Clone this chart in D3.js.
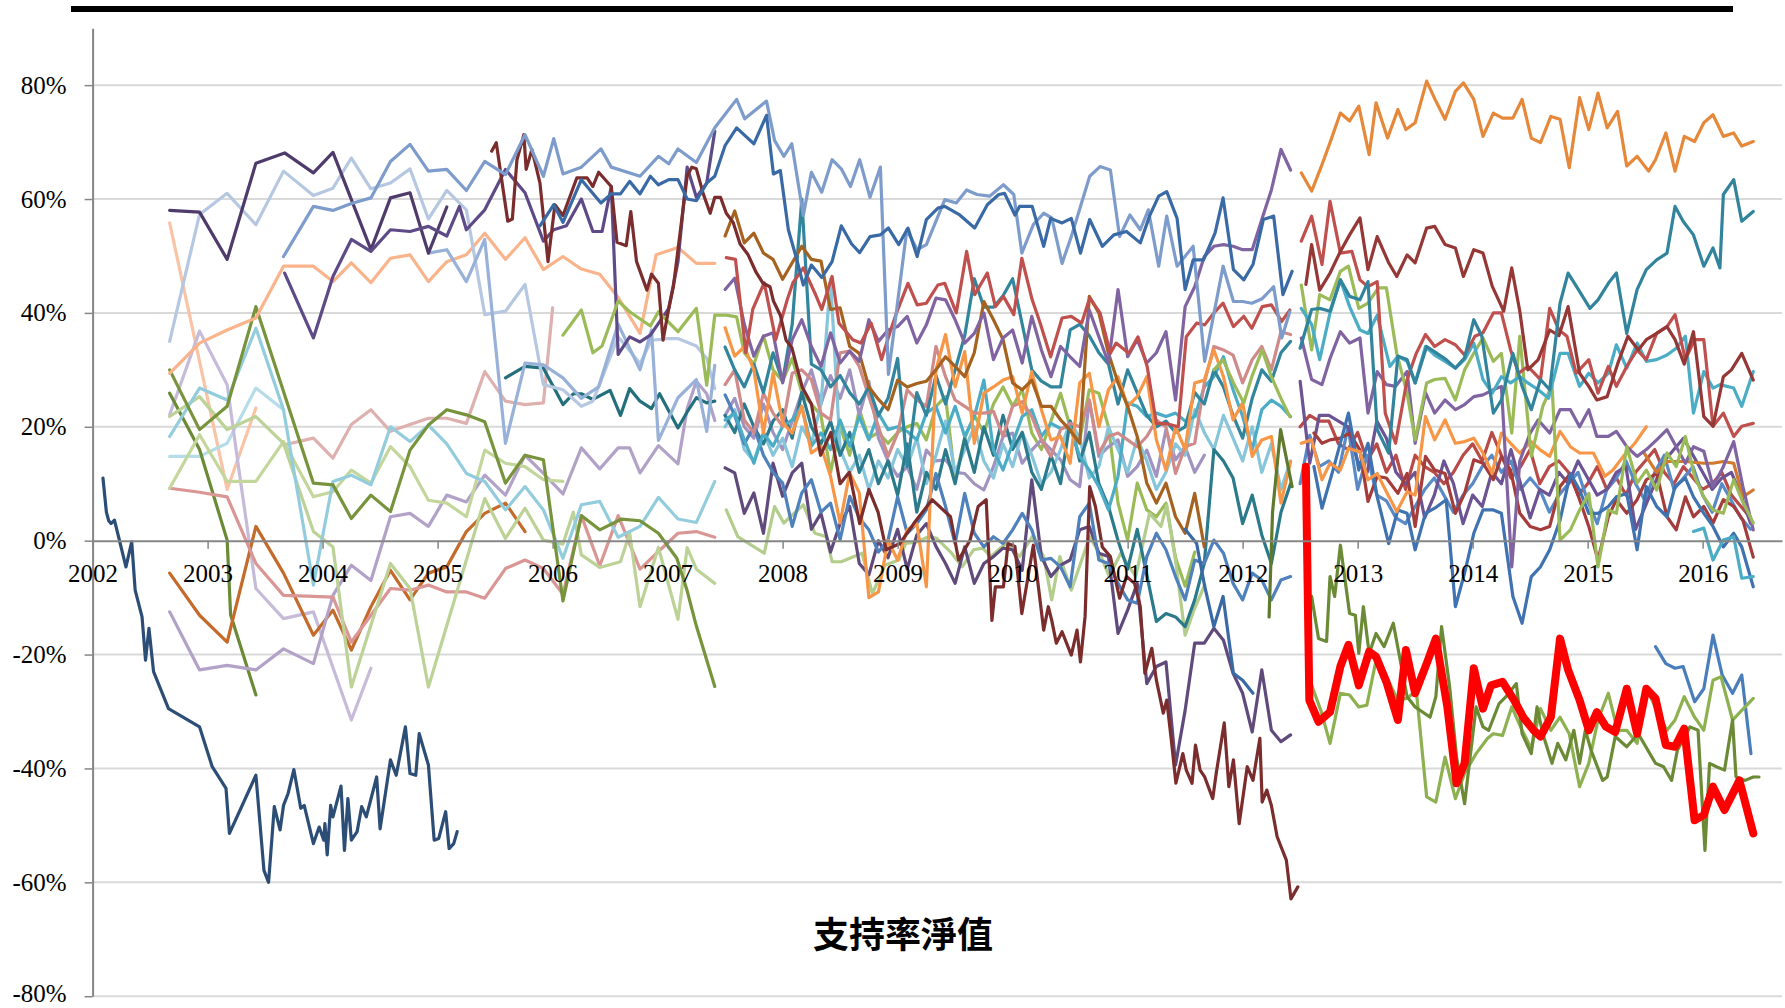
<!DOCTYPE html>
<html lang="zh-Hant">
<head>
<meta charset="UTF-8">
<title>支持率淨值</title>
<script src="https://cdn.jsdelivr.net/npm/d3@7"></script>
<style>
  body { margin: 0; background: #fff; }
</style>
</head>
<body>
<div id="chart"></div>
<script>
// ---- axis categories ----
const yearTicks = [2002, 2003, 2004, 2005, 2006, 2007, 2008, 2009, 2010, 2011, 2012, 2013, 2014, 2015, 2016];
const pctTicks = [-80, -60, -40, -20, 0, 20, 40, 60, 80];
const chartTitle = "支持率淨值";

// ---- series: [decimal year, net approval %] ----
const navy02 = [[2002.09,11],[2002.12,5],[2002.14,3.5],[2002.16,3],[2002.19,3.6],[2002.29,-4.6],[2002.34,-0.2],[2002.37,-8.7],[2002.43,-13.4],[2002.46,-21],[2002.49,-15.4],[2002.53,-23],[2002.66,-29.5],[2002.93,-32.7],[2003.04,-39.7],[2003.16,-43.5],[2003.19,-51.4],[2003.42,-41.2],[2003.49,-57.9],[2003.53,-60],[2003.58,-46.7],[2003.63,-50.8],[2003.66,-46.5],[2003.7,-44.4],[2003.75,-40.2],[2003.81,-47],[2003.84,-46.5],[2003.92,-53.2],[2003.97,-50.3],[2004.01,-52.6],[2004.02,-49.7],[2004.04,-55.2],[2004.07,-46.5],[2004.09,-48.5],[2004.16,-43.1],[2004.19,-54.4],[2004.22,-45.3],[2004.25,-52.6],[2004.3,-51.1],[2004.34,-46.7],[2004.38,-48.5],[2004.47,-41.5],[2004.5,-50.6],[2004.59,-38.5],[2004.64,-41.2],[2004.72,-32.7],[2004.76,-40.9],[2004.81,-41.2],[2004.84,-33.9],[2004.92,-39.4],[2004.97,-52.6],[2005.01,-52.3],[2005.07,-47.6],[2005.1,-54.1],[2005.14,-53.2],[2005.17,-51.1]];

const darkPurple02 = [[2002.67,58],[2002.93,57.7],[2003.17,49.4],[2003.42,66.3],[2003.67,68.1],[2003.92,64.6],[2004.09,68.2],[2004.42,51.1],[2004.59,60.2],[2004.76,61.1],[2004.92,50.5],[2005.08,58.6]];

const purple03 = [[2003.67,47],[2003.92,35.6],[2004.09,46.4],[2004.25,52.9],[2004.42,50.8],[2004.59,54.6],[2004.76,54.3],[2004.92,55.2],[2005.08,53.5],[2005.19,58.7],[2005.25,54.6],[2005.41,58.1],[2005.59,65.2],[2005.76,61.1],[2005.92,52.6],[2006.01,54.6],[2006.12,55.3],[2006.25,60],[2006.35,54.3],[2006.43,54.3],[2006.51,62.2],[2006.57,32.7],[2006.67,35.8],[2006.76,34.9],[2006.85,36.1],[2007.01,40.8],[2007.09,49],[2007.17,65.6],[2007.25,60.3],[2007.34,62.8],[2007.41,71.9]];

const lightSteel02 = [[2002.67,35],[2002.93,57.3],[2003.17,61],[2003.42,55.5],[2003.66,64.9],[2003.92,60.6],[2004.09,61.9],[2004.25,67.2],[2004.42,61.8],[2004.59,62.8],[2004.76,65.3],[2004.92,56.5],[2005.08,61.5],[2005.25,58.1],[2005.41,39.7],[2005.59,40.3],[2005.76,45],[2005.92,27.4],[2006.09,26.5],[2006.25,23.6],[2006.35,24.5],[2006.57,35.8],[2006.76,31.1],[2006.86,35.2],[2007.01,35.5],[2007.09,35.5],[2007.25,34.2],[2007.34,32],[2007.41,26.7]];

const midSteel04 = [[2004.92,50.5],[2005.08,51.1],[2005.25,45.5],[2005.41,52.9],[2005.59,17.1],[2005.76,31.2],[2005.92,30.9],[2006.09,28.6],[2006.25,25],[2006.4,27],[2006.57,38],[2006.76,30],[2006.86,37],[2006.92,17.6],[2007.09,25.1],[2007.25,28.3],[2007.34,19.2],[2007.41,30.8]];

const steelBlue03 = [[2003.66,49.9],[2003.92,58.7],[2004.09,58],[2004.25,59.2],[2004.42,60.2],[2004.59,66.6],[2004.76,69.6],[2004.92,64.9],[2005.08,65.2],[2005.25,61.5],[2005.41,66.6],[2005.59,64.3],[2005.76,71.3],[2005.92,64],[2006.01,70.6],[2006.09,64.4],[2006.25,65.6],[2006.42,68.8],[2006.51,65.6],[2006.76,64],[2006.92,67.5],[2007.01,66.2],[2007.09,68.8],[2007.25,66.4],[2007.41,72.5],[2007.6,77.5],[2007.67,74.1],[2007.86,77.2],[2007.93,70.3],[2008.01,67.5],[2008.08,69.7],[2008.18,57.1],[2008.25,64.7],[2008.34,61.2],[2008.43,66.9],[2008.51,65.3],[2008.59,62.2],[2008.67,66.9],[2008.76,60.3],[2008.85,65.6],[2008.92,29.2],[2009.08,54.6],[2009.17,51.1],[2009.25,52],[2009.41,59.9],[2009.51,59.3],[2009.6,61.6],[2009.69,60.8],[2009.8,60.5],[2009.92,62.5],[2010.01,60.8],[2010.08,50.5],[2010.18,55.5],[2010.27,57.5],[2010.34,56.7],[2010.43,48.7],[2010.51,53.4],[2010.59,58.7],[2010.67,64],[2010.76,65.7],[2010.85,65.1],[2010.93,53.4],[2011.02,57.2],[2011.11,54.6],[2011.18,58.1],[2011.27,48.2],[2011.34,57],[2011.43,48.2],[2011.57,51.7],[2011.67,31.5],[2011.83,48.2],[2011.92,42],[2012,42],[2012.08,41.7],[2012.17,42.5],[2012.27,44.6],[2012.34,35.6],[2012.41,40.2]];

const peach02 = [[2002.67,55.8],[2003.17,9],[2003.42,23.3]];

const lightOrange02 = [[2002.67,29.4],[2002.93,34.7],[2003.17,37],[2003.42,39.1],[2003.66,48.2],[2003.92,48.2],[2004.09,45.5],[2004.25,48.8],[2004.42,45.3],[2004.59,49.6],[2004.76,50.2],[2004.92,45.5],[2005.08,49],[2005.25,50.2],[2005.41,54],[2005.59,49.4],[2005.76,53.2],[2005.92,47.6],[2006.09,49.9],[2006.25,47.7],[2006.41,46.8],[2006.57,42.7],[2006.76,36.4],[2006.9,50.2],[2007.09,51.5],[2007.25,48.7],[2007.41,48.7]];

const olive02 = [[2002.67,30],[2002.93,19.5],[2003.17,23.6],[2003.42,41.1],[2003.92,10.1],[2004.09,9.8],[2004.25,3.9],[2004.42,8],[2004.59,5.1],[2004.76,15.9],[2004.92,20.3],[2005.08,23],[2005.25,22.1],[2005.41,20.9],[2005.59,10.1],[2005.76,15],[2005.92,14.2],[2006.09,-10.6],[2006.25,4.4],[2006.41,1.9],[2006.6,3.8],[2006.76,3.5],[2006.92,1.3],[2007.08,-3.1],[2007.17,-8.8],[2007.25,-15],[2007.41,-25.6]];

const oliveDark02 = [[2002.67,25.9],[2002.93,16],[2003.17,0.1],[2003.2,-13],[2003.42,-27.1]];

const paleGreen02 = [[2002.67,9.2],[2002.93,18.6],[2003.17,10.4],[2003.42,10.4],[2003.66,17.4],[2003.92,7.7],[2004.09,8.6],[2004.25,12.4],[2004.42,10.1],[2004.59,16.5],[2004.76,13],[2004.92,7.1],[2005.08,6.6],[2005.25,4.2],[2005.41,15.9],[2005.59,13.6],[2005.76,13],[2005.92,10.7],[2006.09,10.4]];

const paleGreenB02 = [[2002.67,21.8],[2002.93,25.3],[2003.17,19.5],[2003.42,21.8],[2003.66,17.1],[2003.92,1.6],[2004.09,-1.1],[2004.25,-25.7],[2004.59,-4],[2004.76,-8.4],[2004.92,-25.7],[2005.41,7.4],[2005.59,0.4],[2005.76,5.7],[2005.92,0.1],[2006.09,-0.6],[2006.18,5],[2006.25,-2.5],[2006.41,-4.7],[2006.59,-3.7],[2006.67,1.3],[2006.76,-11.6],[2006.92,-1.2],[2007.09,-13.8],[2007.17,-1.2],[2007.25,-5],[2007.41,-7.5]];

const lightBlue02 = [[2002.67,18.3],[2002.93,26.8],[2003.17,24.7],[2003.42,37.3],[2003.66,23],[2003.92,-7.8],[2004.09,10.4],[2004.25,11.5],[2004.42,9.8],[2004.59,20],[2004.76,17.4],[2004.92,20.3],[2005.08,17],[2005.25,11.8],[2005.41,10.4],[2005.59,5.4],[2005.76,9.5],[2005.92,5.4],[2006.09,-3.1],[2006.25,6.3],[2006.41,6.9],[2006.57,0.6],[2006.76,2.5],[2006.92,7.6],[2007.09,3.8],[2007.25,3.2],[2007.41,10.4]];

const lightBlueB02 = [[2002.67,14.8],[2002.93,14.8],[2003.17,17.1],[2003.42,26.8],[2003.66,23]];

const rose02 = [[2002.67,9.2],[2002.93,8.5],[2003.17,7.7],[2003.42,-4],[2003.66,-9.6],[2003.92,-9.8],[2004.09,-9.9],[2004.25,-17.8],[2004.59,-8.4],[2004.76,-8.7],[2004.92,-7.8],[2005.08,-9],[2005.25,-9],[2005.41,-10.1],[2005.59,-4.9],[2005.76,-3.4],[2005.92,-4.9],[2006.09,-9.4],[2006.25,4.4],[2006.41,-4.4],[2006.57,4.4],[2006.76,-5],[2006.92,-1.9],[2007.09,1.3],[2007.25,1.6],[2007.41,0.6]];

const roseLight03 = [[2003.66,16.8],[2003.92,18],[2004.09,14.5],[2004.25,20.4],[2004.42,23],[2004.59,19.2],[2004.76,20.4],[2004.92,21.5],[2005.08,21.5],[2005.25,20.6],[2005.41,29.7],[2005.59,24.5],[2005.76,23.9],[2005.92,24.2],[2006,40.9]];

const lavender02 = [[2002.67,-12.5],[2002.93,-22.7],[2003.17,-21.9],[2003.42,-22.7],[2003.66,-19],[2003.92,-21.6],[2004.09,-9.6],[2004.25,-4.3],[2004.42,-7],[2004.59,4.2],[2004.76,4.8],[2004.92,2.5],[2005.08,8],[2005.25,6.8],[2005.41,11.5],[2005.59,8],[2005.76,15],[2005.92,11.8],[2006.09,8.2],[2006.25,16.3],[2006.41,12.6],[2006.57,16.3],[2006.67,16.3],[2006.76,11.9],[2006.92,16.7],[2007.09,13.5],[2007.17,23.2],[2007.25,28],[2007.34,25.8],[2007.41,21.1]];

const lavenderB02 = [[2002.67,22.1],[2002.93,36.8],[2003.17,27.4],[2003.26,14.2],[2003.42,-8.4],[2003.66,-13.7],[2003.92,-12.5],[2004.25,-31.5],[2004.42,-22.4]];

const burnt02 = [[2002.67,-5.7],[2002.93,-13.1],[2003.17,-17.8],[2003.42,2.5],[2003.66,-5.7],[2003.92,-16.6],[2004.09,-12.2],[2004.25,-19.2],[2004.42,-11.6],[2004.59,-5.2],[2004.76,-10.4],[2004.92,-5.7],[2005.08,-4.6],[2005.25,1.6],[2005.41,4.8],[2005.59,6.6],[2005.76,1.6]];

const darkTeal05 = [[2005.59,28.6],[2005.76,30.6],[2005.92,30.3],[2006.09,23.9],[2006.18,25.8],[2006.25,25.8],[2006.35,24.8],[2006.5,26.4],[2006.59,22],[2006.67,26.7],[2006.76,24.5],[2006.86,23.2],[2006.93,25.8],[2007.09,19.8],[2007.17,22.6],[2007.25,25.1],[2007.34,24.2],[2007.41,24.5]];

const darkBlue05 = [[2005.89,55.3],[2006.01,59],[2006.09,55.9],[2006.25,63.4],[2006.42,59.3],[2006.51,60.9],[2006.59,60.9],[2006.67,63.1],[2006.76,60.9],[2006.85,64],[2006.92,62.5],[2007.01,63.4],[2007.09,63.4],[2007.17,60],[2007.25,59.7],[2007.34,62.8],[2007.41,64],[2007.5,69.4],[2007.6,72.5],[2007.75,69.7],[2007.86,74.7],[2007.92,64.4],[2007.98,65],[2008.05,54.6],[2008.12,49.6],[2008.18,44.9],[2008.25,48.4],[2008.34,46.2],[2008.43,49],[2008.51,55.3],[2008.6,52.1],[2008.67,50.6],[2008.76,53.4],[2008.85,53.7],[2008.92,54.9],[2009.01,52],[2009.09,54.9],[2009.17,49.9],[2009.25,56.4],[2009.35,58.4],[2009.41,58.7],[2009.54,57.2],[2009.67,54.9],[2009.78,59],[2009.88,60.8],[2009.93,61],[2010.02,57.2],[2010.06,58.7],[2010.17,58.7],[2010.27,51.7],[2010.33,56.6],[2010.43,55.8],[2010.51,56.6],[2010.59,50.5],[2010.67,56.4],[2010.78,51.7],[2010.88,53.7],[2010.99,54.3],[2011.11,52.3],[2011.19,57],[2011.27,60.5],[2011.34,61.3],[2011.43,56.6],[2011.5,44.1],[2011.57,49.3],[2011.66,49.3],[2011.76,54],[2011.83,60.2],[2011.92,47.6],[2012.01,45.8],[2012.09,48.5],[2012.18,56.4],[2012.27,57],[2012.35,43.2],[2012.43,47.3]];

const maroon05 = [[2005.47,68.4],[2005.51,69.9],[2005.61,56.1],[2005.65,56.5],[2005.69,66.9],[2005.75,71.3],[2005.77,65.2],[2005.82,68.7],[2005.89,62.8],[2005.96,49],[2006.02,59],[2006.09,57.1],[2006.21,63.7],[2006.3,63.7],[2006.35,62.2],[2006.4,64.7],[2006.51,62.2],[2006.56,52.4],[2006.64,51.8],[2006.68,57.8],[2006.73,49],[2006.82,44],[2006.86,46.8],[2006.92,45.2],[2006.96,35.2],[2007.01,40.8],[2007.05,44.6],[2007.17,64],[2007.21,65.6],[2007.25,65.3],[2007.31,60.9],[2007.37,57.5],[2007.41,60.3],[2007.46,60.3],[2007.51,57.5],[2007.57,55.9],[2007.63,52.1],[2007.7,50.2],[2007.77,47.1],[2007.83,45.2],[2007.89,44.6],[2007.92,42.1],[2007.98,39.6],[2008.03,35.2],[2008.08,33.9],[2008.17,27],[2008.25,24],[2008.33,15],[2008.42,19],[2008.5,10],[2008.58,12],[2008.67,3],[2008.75,9],[2008.83,5],[2008.9,-1.6],[2009.02,-0.5],[2009.14,3],[2009.3,7.2],[2009.46,4.2],[2009.53,-3.4],[2009.63,0.1],[2009.7,6],[2009.77,7.2],[2009.82,-14],[2009.85,-8.1],[2009.92,-8.1],[2009.96,-0.5],[2010.02,-1],[2010.08,-12.8],[2010.18,-0.8],[2010.27,-15.7],[2010.31,-11.6],[2010.34,-14],[2010.38,-18],[2010.43,-16],[2010.51,-20.1],[2010.56,-15.7],[2010.59,-21.3],[2010.63,-13.3],[2010.67,9.5],[2010.72,6],[2010.78,-1.1],[2010.85,-2.8],[2010.93,-10.1],[2010.99,-6.3],[2011.06,-7.5],[2011.11,-11.6],[2011.15,-23.3],[2011.21,-18.9],[2011.25,-24.5],[2011.31,-30.3],[2011.34,-28],[2011.38,-35],[2011.42,-42.6],[2011.48,-37.4],[2011.51,-40.3],[2011.56,-42.6],[2011.59,-35.9],[2011.63,-40.3],[2011.67,-41.5],[2011.74,-45.3],[2011.77,-40.9],[2011.84,-32],[2011.88,-43.2],[2011.92,-38.5],[2011.97,-49.7],[2012.04,-39.7],[2012.09,-42.1],[2012.15,-34.7],[2012.17,-45.9],[2012.21,-43.8],[2012.25,-46.5],[2012.3,-52],[2012.38,-56.1],[2012.42,-62.9],[2012.48,-60.8]];

const lightGreen06 = [[2006.09,36.1],[2006.25,40.5],[2006.35,33],[2006.43,34.2],[2006.57,42.1],[2006.67,40.2],[2006.85,37.7],[2006.92,40.2],[2007.09,36.7],[2007.25,40.8],[2007.34,27.3],[2007.41,39.6],[2007.51,39.6],[2007.6,39.3]];
// continues monthly from 2007.67
const lightGreen07 = [33,31,36,30,28,32,26,24,22,12,20,15,23,18,19,17.1,19,20,20.6,17.7,23.6,25.3,10.7,18,22,19,24,27,23.6,26.5,18.9,16,21,25.9,20,17.7,26.5,25.9,20,6.6,0.1,10.1,5.4,4.2,6.6,-3,-8,-2];

const paleGreen07 = [[2007.51,5.4],[2007.61,0.7],[2007.84,-2.2],[2007.93,6],[2008.01,3.1],[2008.18,6.3],[2008.28,1.3],[2008.38,0.7],[2008.43,-3.7],[2008.51,-3.7],[2008.69,-2.2],[2008.78,-9.3],[2008.89,-4.3],[2009.01,-3.4],[2009.07,-0.5],[2009.17,-0.2],[2009.27,0.7],[2009.34,0.4],[2009.47,-2.2],[2009.56,-4.6],[2009.66,-1.6],[2009.74,-1.3],[2009.81,-2.8],[2009.94,-0.5],[2010.06,-2.8],[2010.17,0.7],[2010.27,-2.8],[2010.34,-10.4],[2010.41,-2.8],[2010.51,-8.7],[2010.67,0.7],[2010.77,-2.8],[2010.84,-6.3],[2010.94,-2.2],[2011.07,-6.3],[2011.19,4.8],[2011.29,2.5],[2011.34,6.3],[2011.42,-4],[2011.5,-16.6],[2011.58,-12],[2011.67,-7.8]];

const lightGreen11 = [[2011.75,30],[2011.83,31.8],[2011.92,27.7],[2012.01,24.2],[2012.08,28.8],[2012.17,33.5],[2012.25,28.8],[2012.34,24.7],[2012.41,21.8]];

const darkBlue11 = [[2011.5,2],[2011.6,-0.5],[2011.67,-8],[2011.75,-15.1],[2011.83,-9.8],[2011.92,-23.3],[2012,-24.5],[2012.09,-26.8]];

// monthly cluster series starting mid-2007
const red07 = [[2007.51,49.7],[2007.59,49.4],[2007.68,33],[2007.74,40.6],[2007.84,45.3],[2007.94,35.3],[2008.04,42.3],[2008.09,45.3],[2008.18,47.9],[2008.28,43.5],[2008.34,40.6],[2008.43,46.4],[2008.49,38.2],[2008.61,35.3],[2008.68,34.7],[2008.77,38.2],[2008.86,31.8],[2008.94,37],[2008.99,40],[2009.09,45.2],[2009.17,41.4],[2009.25,41.7],[2009.35,44.9],[2009.41,45.2],[2009.51,40],[2009.6,50.8],[2009.67,43.2],[2009.78,47],[2009.85,41.1],[2009.92,42.9],[2010.01,39.7],[2010.08,49.6],[2010.17,42.3],[2010.24,38.2],[2010.33,32.3],[2010.43,39.1],[2010.51,39.4],[2010.6,38.2],[2010.67,42.6],[2010.76,40],[2010.85,32.9],[2010.9,34.7],[2011.01,32.9],[2011.09,35.8],[2011.17,30.6],[2011.25,20.6],[2011.35,20.5],[2011.44,20],[2011.51,35.8],[2011.6,38.2],[2011.67,37.9],[2011.75,40],[2011.83,41.7],[2011.92,37.6],[2012.01,39.4],[2012.08,37.3],[2012.17,41.1],[2012.25,41.4],[2012.34,38.5],[2012.41,40.5]];
const brown07 = [53.5,57.9,52.3,54,50.5,49.4,45.9,48.8,51.7,49.4,49.1,40.6,40.9,34.1,32.9,27,24.8,23,28.2,27,27.6,28,30,32.3,30.6,28.8,33,42,38.8,35.3,27.7,26.5,28.2,23.6,23.6,21.2,19.4,17.1,42.9,40,32.9,27.7,23.6,18.3,10.1,6.6,10.1,4.2,1.3,8.3,-1.1];
const purple07 = [44.1,46.1,38,32.4,35.9,36.5,27.7,35.3,38.8,34.1,30.6,36.5,31.2,33.3,31.5,38.8,35,37,37.6,39.4,34.7,37.9,42.6,42.3,38.8,34.7,36.4,40,31.8,35.6,37,31.2,39.4,33.5,28.8,34.1,32.3,30.6,40.5,35.8,31.2,44.1,32.3,35.3,31.2,33,36.7,24.7,41.1,44.6,49.9,51.7,52,51.7,51.1,51.1,56.4,61.6,68.7,65.1];
const orange07 = [37.4,32.4,34.1,30,18.9,29.4,20.7,18.9,23.6,15.4,16.6,11.3,3.1,11.9,8.4,-10,-9,0,-3.4,1.9,3,-8.1,30,36.2,27,33.2,17.1,25.9,27,28.2,28.8,22.4,29.7,23,17.7,18.3,13.6,27.7,29.4,20,26.5,28.8,23.6,25.3,28.8,17.7,12.4,20,16,27.7,28.2,33.5,28.8,21.2,24.2,14.8,17.7,18.3,6.6,13.9];
const rose07 = [27.4,30,21.2,18.9,25.9,22.4,20.1,29.4,30,28.3,22.4,21.2,33,33.3,30.6,25.3,20,14.8,18.9,26.5,24.7,23.6,34.1,28.8,24.7,23.6,22.4,22.4,22.7,18.3,23.6,24.4,21.8,17.7,14.8,19.5,20.6,20,24.7,15.4,18.3,18.9,17.7,16.5,18.3,21.2,20,11.8,16.5,17.1,27.7,34.1,33.5,32.6,27.7,31.8,34.1,30,36.7,36.2];
const cyan07 = [21.2,22.4,17.7,13.6,18.9,16.6,20.1,21.2,23.6,16.6,18.9,16,21.2,16.6,21.8,17.7,22.4,19.5,20,19.2,17.7,22.4,23.6,18.9,23.6,18.3,21.8,28.2,15.9,12.4,17.1,21.8,23,18.3,20.6,19.7,20,14.8,12.4,9.5,5.4,11.3,24.2,23.6,21.8,22.4,21.8,22.4,21,21.8,27,28.8,32.3,26.5,21.8,16,23,24.7,23.6,21.8];
const blue07 = [25.6,22,17,20,15,12,10.1,2.5,8.4,10.7,5,6.6,0.2,7.8,4,1.9,-2,0.1,7.7,1.3,3,5.4,11.8,6,-0.5,8.3,1.3,-1.1,0.7,-0.5,1.9,4.8,1.9,-3.4,-3.1,-4.6,-8.1,4.2,6.6,-3.4,-4,-7.5,-10.4,-11,-2.8,1.3,-1.6,-6.3,-10.4,-3.4,-4,0.1,-2.2,-7.5,-10.4,-5.7,-6.9,-10.4,-6.9,-6.3];
const darkPurple07 = [12.8,11.9,4.8,8.4,1.3,13.6,7.8,11.9,13.6,2,4.8,-2,3,6,-4,-6,0,-3,2,-5,1,3,-1,-4,-7.5,-1.1,-7.5,-4,-2.8,-1.3,-1.6,-5.2,10.7,-2.8,-6.3,-4.3,-3.4,1.9,2.5,-2.2,-2.8,-16.3,-12.2,-7.5,-25.1,-22.1,-21.3,-39.4,-29.8,-18,-18,-15.4,-17.5,-23.3,-26.8,-33.6,-22.7,-33.3,-35.3,-34.1];
const teal07 = [34,30,27,31,26,33,28,38,60,31,30,27,29,26,24,27,22,25,32,13,26,22,29,24,30,36,46,41,41,43,46,38,30,28,27,27,37,38,36,33,31,24,30,26,22,20,21,19,20,26,24,30,27,22,18,25,30,28,33,35];
const darkTeal07 = [22,19,24,20,17,21,23,18,26,20,17,21,15,19,12,16,10,14,8,17,5,12,9,16,10,18,12,20,15,22,16,19,12,9,15,10,21,14,19,10,6,0,-5,2,-6,-14.2,-12.8,-13.4,-15.1,-10.4,-4,16,14,11,3,8,1,-4,5,10];
const lightCyan07 = [20,23,16,14,19,15,18,13,20,17,24,45.9,16,12,15,9,14,11,16,13,18,10,15,21,12,16,20,14,11,17,13,19,15,10,12,16,21,18,11,13,20,16,12,18,14,9,12,17,15,23,19,16,22,18,14,20,12,17,9,14];
const lavender07 = [22,25,20,18,24,19,16,21,26,30,24,29,25,30,22,28,18,14,11.3,13,9,15.9,14,14.2,12,11.8,10,8.9,13,18.3,18.9,13.6,15.9,17.7,16,14.2,10.7,9.5,24.7,14.8,16.5,17.7,11.3,13,15.9,11.3,19.5,14.2,16.5,12,15];
const olive12 = [[2012.23,-13.4],[2012.26,5],[2012.33,19.5],[2012.43,9.5]];

// 2012-2016 series
const orange12 = [[2012.51,64.6],[2012.6,61.4],[2012.68,65.5],[2012.76,69.9],[2012.85,75.1],[2012.93,73.7],[2013.01,76.3],[2013.1,67.8],[2013.16,76.9],[2013.26,70.7],[2013.35,75.7],[2013.42,72.2],[2013.5,73.4],[2013.6,80.7],[2013.68,77.2],[2013.76,74],[2013.85,78.9],[2013.92,80.4],[2014.01,77.5],[2014.09,71],[2014.18,75.1],[2014.26,74.2],[2014.35,74.2],[2014.43,77.5],[2014.51,70.7],[2014.59,69.9],[2014.68,74.5],[2014.76,74],[2014.84,65.5],[2014.93,77.8],[2015.01,72.2],[2015.09,78.6],[2015.17,72.5],[2015.26,75.4],[2015.34,65.8],[2015.43,67.5],[2015.53,64.9],[2015.59,66.9],[2015.68,71.6],[2015.76,64.9],[2015.84,71],[2015.93,70.1],[2016.01,73.4],[2016.09,74.8],[2016.18,71],[2016.27,71.6],[2016.34,69.3],[2016.44,70.1]];
const teal12 = [[2012.5,33.8],[2012.6,40.6],[2012.67,40.8],[2012.76,40.3],[2012.85,45.8],[2012.93,42.9],[2013.02,42.3],[2013.09,45.5],[2013.17,19.5],[2013.27,15.4],[2013.35,32.4],[2013.43,31.8],[2013.5,27.7],[2013.6,34.1],[2013.69,32.9],[2013.77,31.8],[2013.85,30.3],[2013.93,32.1],[2014.01,38.8],[2014.08,35.9],[2014.18,22.4],[2014.25,24.7],[2014.35,32.9],[2014.43,27.1],[2014.51,23],[2014.59,28.3],[2014.67,26.5],[2014.76,41.7],[2014.83,47],[2014.92,44.1],[2015.02,40.8],[2015.09,42.3],[2015.18,45.2],[2015.25,47],[2015.34,36.4],[2015.43,44.1],[2015.51,47.6],[2015.6,49.3],[2015.69,50.5],[2015.76,58.7],[2015.83,56.1],[2015.92,53.7],[2016.01,48.2],[2016.09,51.4],[2016.15,47.9],[2016.18,60.8],[2016.27,63.4],[2016.34,56.1],[2016.44,57.8]];
const darkRed12 = [[2012.55,45],[2012.6,52],[2012.67,44],[2012.76,47],[2012.85,50.8],[2012.93,53.7],[2013.02,56.7],[2013.09,47.6],[2013.17,53.4],[2013.27,48.8],[2013.34,46.4],[2013.43,50.2],[2013.5,48.8],[2013.6,54.9],[2013.67,55.2],[2013.76,52],[2013.85,51.4],[2013.92,46.4],[2014.01,51.1],[2014.09,50.5],[2014.17,44.7],[2014.27,40.3],[2014.34,47.9],[2014.41,40.3],[2014.48,30],[2014.57,31.8],[2014.67,37],[2014.75,36],[2014.83,41.1],[2014.93,29.4],[2015.01,27.1],[2015.08,24.7],[2015.17,25.3],[2015.26,31],[2015.35,35.9],[2015.44,33.5],[2015.51,35.3],[2015.6,36.4],[2015.69,37.6],[2015.76,35.3],[2015.84,31],[2015.92,36.7],[2016.01,21.8],[2016.09,20.1],[2016.18,28.8],[2016.25,30],[2016.34,32.9],[2016.44,28.2]];
const red12 = [[2012.51,52.6],[2012.6,57],[2012.69,48.5],[2012.76,59.6],[2012.85,50.5],[2012.95,50.8],[2013.02,45.8],[2013.09,44.6],[2013.17,45.5],[2013.24,22.4],[2013.33,17.1],[2013.43,28.3],[2013.51,32.9],[2013.59,36.2],[2013.67,34.1],[2013.76,35.3],[2013.85,34.4],[2013.93,32.6],[2014.02,35.9],[2014.09,36.5],[2014.18,40],[2014.25,40],[2014.33,33.5],[2014.4,29.4],[2014.48,30.6],[2014.59,28.3],[2014.67,40.8],[2014.75,37],[2014.82,35.9],[2014.9,29.4],[2015.01,31.8],[2015.09,25.9],[2015.18,30.6],[2015.25,27.1],[2015.34,30.6],[2015.43,33.5],[2015.51,31.8],[2015.6,36.4],[2015.69,37.6],[2015.76,39.7],[2015.85,31.8],[2015.93,35.3],[2016.01,35.3],[2016.09,20.1],[2016.18,22.4],[2016.27,18.3],[2016.34,20.1],[2016.44,20.6]];
const cyan12 = [[2012.51,40.8],[2012.6,38],[2012.67,31.8],[2012.76,40],[2012.85,45.8],[2012.93,41.1],[2013.02,37],[2013.09,36.4],[2013.17,39.6],[2013.28,30.6],[2013.35,32.4],[2013.43,31.5],[2013.5,27.7],[2013.59,34.1],[2013.67,32.6],[2013.76,31.5],[2013.85,30.3],[2013.93,31.8],[2014.01,34.7],[2014.09,28.3],[2014.17,25.9],[2014.25,28.8],[2014.33,27.7],[2014.41,28.8],[2014.48,27.7],[2014.57,26.5],[2014.66,25],[2014.76,32.9],[2014.83,32.9],[2014.93,27.1],[2015.01,29.4],[2015.09,27.7],[2015.18,29.4],[2015.25,34.4],[2015.34,30.3],[2015.43,34.7],[2015.51,31.5],[2015.6,31.8],[2015.69,32.6],[2015.77,33.8],[2015.85,35.9],[2015.92,22.4],[2016.01,29.7],[2016.09,26.8],[2016.15,27.4],[2016.27,26.8],[2016.34,23.6],[2016.44,29.7]];
const lightGreen12 = [[2012.51,44.9],[2012.6,33.5],[2012.67,43.2],[2012.76,42.3],[2012.85,47.3],[2012.92,48.2],[2013.01,40.8],[2013.09,41.7],[2013.18,44.4],[2013.25,44.4],[2013.34,32.9],[2013.43,25.9],[2013.5,17.7],[2013.6,27.7],[2013.67,28.3],[2013.76,28.5],[2013.85,24.7],[2013.93,30],[2014.01,32.9],[2014.09,35.6],[2014.18,31.5],[2014.25,32.9],[2014.34,18.9],[2014.41,35.9],[2014.51,14.8],[2014.61,23.6],[2014.69,27.4],[2014.76,0.1],[2014.85,1.9],[2014.93,5.4],[2015.01,8.3],[2015.09,-4.6],[2015.18,5.4],[2015.25,4.8],[2015.34,16.5],[2015.43,10.1],[2015.51,12.4],[2015.6,8.9],[2015.69,15.4],[2015.77,13],[2015.85,18.3],[2015.93,11.3],[2016.01,7.7],[2016.09,5.4],[2016.18,4.8],[2016.27,10.7],[2016.34,7.2],[2016.44,3.1]];
const purple12 = [[2012.51,35.6],[2012.6,28.3],[2012.69,27.4],[2012.76,32],[2012.85,36.7],[2012.93,34.7],[2013.02,35.6],[2013.09,22.4],[2013.17,29.7],[2013.25,27.4],[2013.33,27.1],[2013.43,29.7],[2013.5,17.1],[2013.59,26],[2013.67,22.4],[2013.76,24.7],[2013.85,23],[2013.93,23.9],[2014.01,25.3],[2014.09,25.6],[2014.18,26.5],[2014.25,27.1],[2014.34,-4.6],[2014.41,14],[2014.5,18.9],[2014.57,21.2],[2014.67,18.9],[2014.76,23],[2014.85,23],[2014.93,20],[2015.01,23],[2015.08,18.3],[2015.18,18.3],[2015.25,19.2],[2015.34,16.5],[2015.43,14.8],[2015.51,16],[2015.6,17.7],[2015.69,19.5],[2015.77,16.5],[2015.85,13.6],[2015.92,16.5],[2016.01,15.7],[2016.09,9.5],[2016.18,13],[2016.27,17.4],[2016.35,9.5],[2016.44,1.9]];
const blue12 = [[2012.62,13],[2012.69,5.7],[2012.79,12.7],[2012.92,22.4],[2013.01,12.4],[2013.09,17.1],[2013.17,7.7],[2013.27,-0.5],[2013.35,5.4],[2013.43,4.8],[2013.5,-1.6],[2013.59,4.8],[2013.67,5.7],[2013.77,7.2],[2013.85,-11.6],[2013.93,-5.7],[2014.01,1.3],[2014.09,5.4],[2014.18,5.4],[2014.25,4.8],[2014.35,-9.8],[2014.43,-14.5],[2014.51,-6.3],[2014.59,-4.6],[2014.67,-1.6],[2014.76,3.6],[2014.85,11.8],[2014.93,8.9],[2015.01,4.8],[2015.09,4.8],[2015.18,6],[2015.25,7.7],[2015.34,8.3],[2015.43,-1.6],[2015.51,9.5],[2015.6,6],[2015.69,4.2],[2015.76,9.5],[2015.85,11],[2015.92,7.7],[2016.01,4.8],[2016.09,2.5],[2016.18,-1.1],[2016.27,1.3],[2016.34,-1.1],[2016.44,-8.1]];
const orange12b = [[2012.51,17.1],[2012.6,17.7],[2012.69,10.7],[2012.76,13.6],[2012.85,12.4],[2012.92,16.2],[2013.02,15.6],[2013.09,10.7],[2013.17,11.8],[2013.25,8.6],[2013.34,5.1],[2013.43,8.6],[2013.5,8],[2013.59,21.8],[2013.67,17.7],[2013.76,21.2],[2013.85,17.1],[2013.93,17.4],[2014.01,18],[2014.09,15.4],[2014.17,11.8],[2014.25,18.9],[2014.33,17.1],[2014.41,15.4],[2014.51,17.4],[2014.59,15.9],[2014.67,14.8],[2014.76,19.2],[2014.85,16.5],[2014.93,15.4],[2015.05,15.4],[2015.15,11.3],[2015.22,12.4],[2015.31,14.8],[2015.41,17.1],[2015.51,20]];
const darkOrange15 = [[2015.49,15.4],[2015.6,12],[2015.69,13.9],[2015.85,13.9],[2016.01,13.6],[2016.09,13.6],[2016.18,13.9],[2016.27,13.6],[2016.35,7.7],[2016.44,8.9]];
const darkRed12b = [[2012.62,18.9],[2012.69,17.1],[2012.76,17.7],[2012.85,18],[2012.93,18.9],[2013.02,15.9],[2013.09,6.9],[2013.17,11.3],[2013.25,11],[2013.35,8.3],[2013.43,11.8],[2013.5,2.5],[2013.59,14.8],[2013.67,12.4],[2013.76,11.8],[2013.85,4.8],[2013.93,8.3],[2014.01,14.2],[2014.09,13.6],[2014.18,10.7],[2014.25,14.8],[2014.33,12.4],[2014.41,4.8],[2014.5,2.5],[2014.59,1.9],[2014.67,2.5],[2014.76,9.5],[2014.85,11.8],[2014.93,7.2],[2015.01,2.5],[2015.09,-3.4],[2015.18,4.2],[2015.25,7.2],[2015.34,4.8],[2015.43,7.2],[2015.51,10.7],[2015.6,11.8],[2015.69,4.2],[2015.77,1.9],[2015.85,7.7],[2015.92,4.2],[2016.01,6],[2016.09,3.1],[2016.18,7.2],[2016.27,6],[2016.35,3.6],[2016.44,-2.9]];
// monthly from 2012.5
const violet12 = [28,13.6,22,22,21,20,14,12,21,18,12,10,12,4,8,14,10,3,8,6,12,10,16,10,4,9,8,12,10,14,11,8,9,12,13,2,6,10,14,16,18,15,12,9,11,12,8,3];
const blueLight12 = [10,18.5,13,14,12,20,9,15,8,7,4,3,6,9,11,8,5,8,10,13,15,12,14,9,11,9,5,8,10,12,7,3,9,11,14,10,7,12,15,9,11,13,8,5,10,7,4,2];
const brick12 = [20,22,21,21,17,16,19,14,17,12,15,9,15,13,12,10,12,15,17,14,19,15,11,13,16,10,13,14,12,8,10,13,9,11,8,12,14,16,12,10,13,11,9,10,12,8,6,4];
const olive13 = [[2012.6,-9.8],[2012.66,-17.2],[2012.73,-17.7],[2012.76,-6.3],[2012.8,-9.8],[2012.85,-0.8],[2012.93,-12.8],[2012.98,-13.1],[2013.01,-19.8],[2013.05,-11.6],[2013.1,-19.8],[2013.16,-16.3],[2013.23,-18.6],[2013.31,-14.5],[2013.43,-27.4],[2013.5,-29.2],[2013.58,-30.3],[2013.63,-31],[2013.68,-27.4],[2013.73,-15.1],[2013.8,-25.7],[2013.86,-38],[2013.93,-46.2],[2014.03,-29.2],[2014.09,-32.7],[2014.14,-33.3],[2014.23,-28.6],[2014.29,-27.4],[2014.38,-25.1],[2014.43,-33.9],[2014.51,-37.4],[2014.56,-29.2],[2014.61,-33.9],[2014.69,-39.1],[2014.74,-35.6],[2014.81,-38.5],[2014.88,-33.3],[2014.93,-39.1],[2014.98,-33.3],[2015.03,-36.8],[2015.13,-42.1],[2015.17,-41.5],[2015.24,-34.4],[2015.34,-36.2],[2015.44,-33.9],[2015.59,-39.1],[2015.66,-39.7],[2015.73,-42.1],[2015.78,-36.8],[2015.89,-32.7],[2015.96,-33.3],[2016.02,-54.4],[2016.06,-39.1],[2016.12,-39.7],[2016.19,-40.3],[2016.26,-31.5],[2016.29,-41.5],[2016.37,-42.1],[2016.44,-41.5],[2016.49,-41.5]];
const green13 = [[2012.6,-25.4],[2012.68,-29.8],[2012.76,-35.6],[2012.85,-26.8],[2012.93,-27.1],[2013.01,-29.2],[2013.08,-28.9],[2013.16,-21],[2013.25,-23.9],[2013.35,-28],[2013.43,-27.7],[2013.51,-26.3],[2013.6,-45],[2013.68,-45.9],[2013.76,-38],[2013.85,-45.3],[2013.93,-40.9],[2014.03,-37.4],[2014.13,-34.7],[2014.18,-33.9],[2014.26,-34.2],[2014.34,-29.2],[2014.43,-33.3],[2014.51,-36.5],[2014.59,-29.5],[2014.68,-33.3],[2014.76,-31],[2014.84,-33.9],[2014.93,-43.2],[2015.01,-39.1],[2015.09,-31.5],[2015.18,-26.8],[2015.26,-33.3],[2015.34,-33.3],[2015.43,-35.6],[2015.51,-25.7],[2015.61,-30.3],[2015.69,-33.3],[2015.76,-31.5],[2015.84,-27.4],[2015.93,-31],[2016.01,-33.3],[2016.09,-24.5],[2016.16,-23.9],[2016.26,-31.5],[2016.34,-29.8],[2016.44,-27.7]];
const blue15 = [[2015.59,-18.6],[2015.68,-21.6],[2015.76,-22.4],[2015.83,-22.1],[2015.93,-28.3],[2016.01,-26],[2016.09,-16.6],[2016.17,-23.6],[2016.26,-26.8],[2016.34,-23.6],[2016.42,-37.4]];
const cyan15 = [[2015.92,1.6],[2016.01,2.2],[2016.09,-3.4],[2016.18,0.1],[2016.27,0.7],[2016.34,-6.6],[2016.44,-6.3]];
const redLine = [[2012.55,13],[2012.58,-28],[2012.66,-31.8],[2012.76,-30.1],[2012.85,-22.1],[2012.92,-18.3],[2013.01,-25.4],[2013.1,-19.5],[2013.16,-20.4],[2013.25,-24.8],[2013.35,-31.5],[2013.42,-19.2],[2013.5,-26.8],[2013.6,-21.6],[2013.68,-17.2],[2013.78,-29.2],[2013.86,-42.6],[2013.93,-39.1],[2014.01,-22.4],[2014.09,-29.5],[2014.16,-25.4],[2014.26,-24.8],[2014.36,-28],[2014.44,-31],[2014.53,-33.3],[2014.59,-34.4],[2014.68,-31],[2014.76,-17.2],[2014.83,-22.7],[2014.93,-28],[2015.01,-33.3],[2015.08,-30.1],[2015.16,-32.7],[2015.24,-33.6],[2015.34,-26],[2015.43,-33.9],[2015.51,-26],[2015.59,-27.7],[2015.68,-35.9],[2015.76,-36.2],[2015.84,-33],[2015.93,-49.1],[2016.01,-48.2],[2016.09,-43.2],[2016.19,-47.3],[2016.32,-42.1],[2016.44,-51.4]];

// monthly values -> [date, value] pairs
function monthly(start, vals) { return vals.map((v, i) => [start + i / 12, v]); }

const series = [
  { d: peach02, c: "#f9c3a6" },
  { d: lightBlueB02, c: "#b5dce8" },
  { d: lavenderB02, c: "#c6bbd9" },
  { d: oliveDark02, c: "#6a8a35" },
  { d: burnt02, c: "#c46a2a" },
  { d: lavender02, c: "#b3a2c7" },
  { d: rose02, c: "#d99694" },
  { d: roseLight03, c: "#deb0ae" },
  { d: paleGreen02, c: "#c3d69b" },
  { d: paleGreenB02, c: "#bcd296" },
  { d: lightBlue02, c: "#93cddd" },
  { d: olive02, c: "#77933c" },
  { d: lightOrange02, c: "#f9b48c" },
  { d: darkTeal05, c: "#236f7c" },
  { d: lightSteel02, c: "#b6c8e1" },
  { d: midSteel04, c: "#98b1d9" },
  { d: darkPurple02, c: "#4f3b6b" },
  { d: purple03, c: "#5e4a86" },
  { d: navy02, c: "#2c4d75" },
  { d: lightGreen06.concat(monthly(2007 + 8 / 12, lightGreen07)), c: "#9bbb59" },
  { d: paleGreen07, c: "#b3cd8d" },
  { d: monthly(2007.5, lavender07), c: "#a193c0" },
  { d: monthly(2007.5, lightCyan07), c: "#86c5da" },
  { d: monthly(2007.5, darkTeal07), c: "#2b7a8b" },
  { d: monthly(2007.5, darkPurple07), c: "#604a7b" },
  { d: monthly(2007.5, blue07), c: "#4f81bd" },
  { d: monthly(2007.5, cyan07), c: "#4bacc6" },
  { d: monthly(2007.5, rose07), c: "#cf8a8a" },
  { d: monthly(2007.5, teal07), c: "#31859c" },
  { d: monthly(2007.5, orange07), c: "#f79646" },
  { d: monthly(2007.5, brown07), c: "#a6621f" },
  { d: monthly(2007.5, purple07), c: "#8064a2" },
  { d: red07, c: "#c0504d" },
  { d: maroon05, c: "#7b2c2c" },
  { d: lightGreen11, c: "#9bbb59" },
  { d: darkBlue11, c: "#3a6aa5" },
  { d: olive12, c: "#5f7a2c" },
  { d: steelBlue03, c: "#7e9ccb" },
  { d: darkBlue05, c: "#3a6aa5" },
  { d: monthly(2012.5, brick12), c: "#b84a48" },
  { d: monthly(2012.5, blueLight12), c: "#5a8ac6" },
  { d: monthly(2012.5, violet12), c: "#6b5394" },
  { d: darkRed12b, c: "#a33c3a" },
  { d: blue12, c: "#3f72b0" },
  { d: orange12b, c: "#f79646" },
  { d: darkOrange15, c: "#d2782f" },
  { d: purple12, c: "#8064a2" },
  { d: lightGreen12, c: "#9bbb59" },
  { d: cyan12, c: "#4bacc6" },
  { d: red12, c: "#c0504d" },
  { d: darkRed12, c: "#953735" },
  { d: teal12, c: "#31849b" },
  { d: orange12, c: "#e6883a" },
  { d: cyan15, c: "#4bacc6" },
  { d: blue15, c: "#4a7ebb" },
  { d: green13, c: "#8db051" },
  { d: olive13, c: "#6b8a35" },
  { d: redLine, c: "#ff0000", w: 8 }
];

// ---- layout ----
const W = 1785, H = 1008;
const labelFont = "'Liberation Serif', 'Times New Roman', 'DejaVu Serif', serif";
const svg = d3.select("#chart").append("svg")
  .attr("width", W).attr("height", H)
  .style("display", "block");

const x = d3.scaleLinear().domain([2002, 2016.69]).range([92.6, 1782]);
const y = d3.scaleLinear().domain([-80, 90]).range([996.2, 28.2]);

// top rule
svg.append("rect")
  .attr("x", 71).attr("y", 6).attr("width", 1662).attr("height", 6)
  .attr("fill", "#000");

// gridlines
svg.append("g").selectAll("line")
  .data(pctTicks.filter(d => d !== 0))
  .join("line")
  .attr("x1", x(2002)).attr("x2", x.range()[1])
  .attr("y1", d => y(d)).attr("y2", d => y(d))
  .attr("stroke", "#d9d9d9").attr("stroke-width", 2);

// y axis
const yAxis = svg.append("g")
  .attr("transform", `translate(${x(2002)},0)`)
  .call(d3.axisLeft(y).tickValues(pctTicks).tickFormat(d => d + "%")
    .tickSize(8).tickSizeOuter(0).tickPadding(18));
yAxis.select(".domain").attr("stroke", "#868686").attr("stroke-width", 2);
yAxis.selectAll(".tick line").attr("stroke", "#868686").attr("stroke-width", 1.5);
yAxis.selectAll(".tick text")
  .style("font-family", labelFont).style("font-size", "25px").attr("fill", "#000")
  .attr("dy", d => d === -80 ? "0.2em" : "0.32em");

// lines
const line = d3.line().x(d => x(d[0])).y(d => y(d[1]));
svg.append("g").selectAll("path")
  .data(series)
  .join("path")
  .attr("d", s => line(s.d))
  .attr("fill", "none")
  .attr("stroke", s => s.c)
  .attr("stroke-width", s => s.w || 3.2)
  .attr("stroke-linejoin", "round")
  .attr("stroke-linecap", "round");

// x axis at 0%
const xAxis = svg.append("g")
  .attr("transform", `translate(0,${y(0)})`)
  .call(d3.axisBottom(x).tickValues(yearTicks).tickFormat(d3.format("d"))
    .tickSize(8).tickSizeOuter(0));
xAxis.select(".domain").attr("stroke", "#868686").attr("stroke-width", 2);
xAxis.selectAll(".tick line").attr("stroke", "#868686").attr("stroke-width", 1.5);
xAxis.selectAll(".tick text")
  .style("font-family", labelFont).style("font-size", "25px").attr("fill", "#000")
  .attr("y", 41).attr("dy", "0");

// title
svg.append("text")
  .attr("x", 903).attr("y", 948)
  .attr("text-anchor", "middle")
  .style("font-family", "'Noto Sans CJK TC', 'Noto Sans CJK SC', sans-serif")
  .style("font-weight", 700)
  .style("font-size", "36px")
  .attr("fill", "#000")
  .text(chartTitle);
</script>
</body>
</html>
